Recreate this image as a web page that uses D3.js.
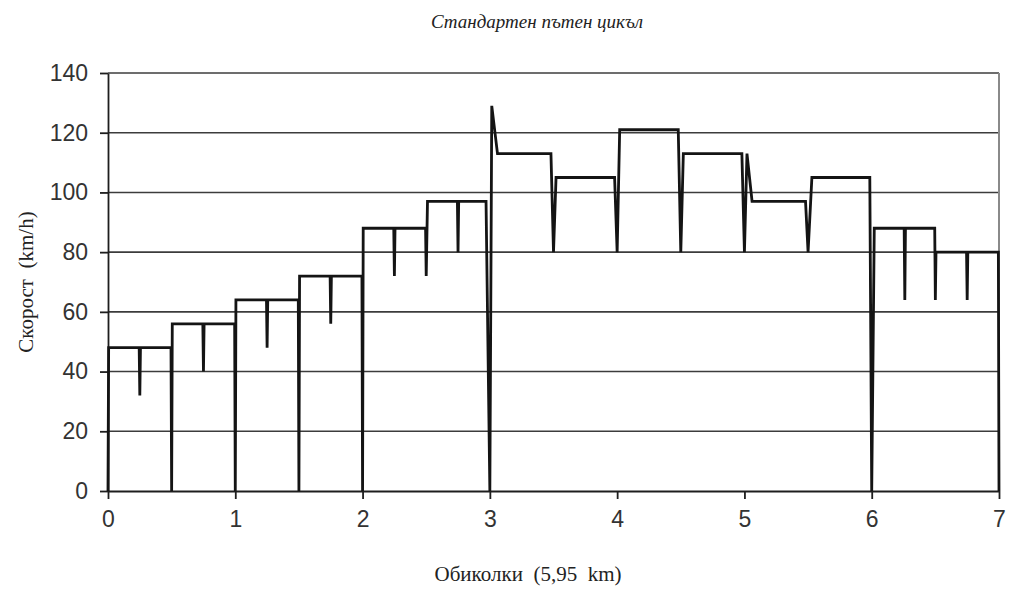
<!DOCTYPE html>
<html lang="bg">
<head>
<meta charset="utf-8">
<script src="https://cdn.jsdelivr.net/npm/d3@7"></script>
<style>
  body { margin: 0; background: #fff; }
</style>
</head>
<body>
<script>
// обиколки (x) и скорост km/h (y) - по картинката
let laps = [0, 0.005, 0.245, 0.25, 0.255, 0.495, 0.5, 0.505, 0.745, 0.75, 0.755, 0.995,
    1.0, 1.005, 1.245, 1.25, 1.255, 1.495, 1.5, 1.505, 1.745, 1.75, 1.755, 1.995,
    2.0, 2.005, 2.245, 2.25, 2.255, 2.495, 2.5, 2.51, 2.745, 2.75, 2.755, 2.97,
    3.0, 3.015, 3.06, 3.48, 3.5, 3.52, 3.98, 4.0, 4.02,
    4.48, 4.5, 4.52, 4.98, 5.0, 5.02, 5.06, 5.48, 5.5, 5.53,
    5.985, 6.0, 6.02, 6.255, 6.26, 6.265, 6.495, 6.5, 6.505, 6.745, 6.75, 6.755, 6.995, 7.0];
let speed = [0, 48, 48, 32, 48, 48, 0, 56, 56, 40, 56, 56,
    0, 64, 64, 48, 64, 64, 0, 72, 72, 56, 72, 72,
    0, 88, 88, 72, 88, 88, 72, 97, 97, 80, 97, 97,
    0, 129, 113, 113, 80, 105, 105, 80, 121,
    121, 80, 113, 113, 80, 113, 97, 97, 80, 105,
    105, 0, 88, 88, 64, 88, 88, 64, 80, 80, 64, 80, 80, 0];

let xTicks = [0, 1, 2, 3, 4, 5, 6, 7];
let yTicks = [0, 20, 40, 60, 80, 100, 120, 140];

let title = "Стандартен пътен цикъл";
let xTitle = "Обиколки  (5,95  km)";
let yTitle = "Скорост  (km/h)";

let width = 1011;
let height = 592;
let plotLeft = 108, plotRight = 999, plotTop = 73, plotBottom = 491;

let svg = d3.select("body")
    .append("svg")
    .attr("width", width)
    .attr("height", height);

let scaleX = d3.scaleLinear().domain([0, 7]).range([plotLeft, plotRight]);
let scaleY = d3.scaleLinear().domain([0, 140]).range([plotBottom, plotTop]);

// мрежа
svg.append("g")
    .selectAll("line")
    .data(yTicks.filter(d => d > 0))
    .enter()
    .append("line")
    .attr("x1", plotLeft)
    .attr("x2", plotRight)
    .attr("y1", d => scaleY(d))
    .attr("y2", d => scaleY(d))
    .attr("stroke", "#3c3c3c")
    .attr("stroke-width", 1.6);

// дясна рамка
svg.append("line")
    .attr("x1", plotRight).attr("x2", plotRight)
    .attr("y1", plotTop).attr("y2", plotBottom)
    .attr("stroke", "#8a8a8a")
    .attr("stroke-width", 2);

// оси
let axisX = d3.axisBottom(scaleX).tickValues(xTicks).tickFormat(d3.format("d"))
    .tickSize(8).tickPadding(12).tickSizeOuter(0);
let axisY = d3.axisLeft(scaleY).tickValues(yTicks).tickFormat(d3.format("d"))
    .tickSize(8).tickPadding(12).tickSizeOuter(0);

let gx = svg.append("g")
    .attr("transform", `translate(0, ${plotBottom})`)
    .call(axisX);
let gy = svg.append("g")
    .attr("transform", `translate(${plotLeft}, 0)`)
    .call(axisY);

[gx, gy].forEach(g => {
    g.select(".domain").attr("stroke", "#1e1e1e").attr("stroke-width", 1.8);
    g.selectAll(".tick line").attr("stroke", "#1e1e1e").attr("stroke-width", 1.8);
    g.selectAll(".tick text")
        .attr("fill", "#333")
        .style("font-family", "'Liberation Sans', Arial, sans-serif")
        .style("font-size", "23px");
});

// линия на скоростта
let pts = laps.map((x, i) => [x, speed[i]]);
let line = d3.line()
    .x(d => scaleX(d[0]))
    .y(d => scaleY(d[1]));

svg.append("path")
    .datum(pts)
    .attr("d", line)
    .attr("fill", "none")
    .attr("stroke", "#141414")
    .attr("stroke-width", 2.8)
    .attr("stroke-linejoin", "miter")
    .attr("stroke-miterlimit", 4);

// надписи
svg.append("text")
    .attr("x", 537)
    .attr("y", 28)
    .attr("text-anchor", "middle")
    .style("font-family", "'Liberation Serif', 'DejaVu Serif', serif")
    .style("font-style", "italic")
    .style("font-size", "19px")
    .attr("fill", "#222")
    .text(title);

svg.append("text")
    .attr("x", 528)
    .attr("y", 581)
    .attr("text-anchor", "middle")
    .style("font-family", "'Liberation Serif', serif")
    .style("font-size", "21px")
    .style("white-space", "pre")
    .attr("fill", "#222")
    .text(xTitle);

svg.append("text")
    .attr("transform", "translate(33, 282) rotate(-90)")
    .attr("text-anchor", "middle")
    .style("font-family", "'Liberation Serif', serif")
    .style("font-size", "21px")
    .style("white-space", "pre")
    .attr("fill", "#222")
    .text(yTitle);
</script>
</body>
</html>
